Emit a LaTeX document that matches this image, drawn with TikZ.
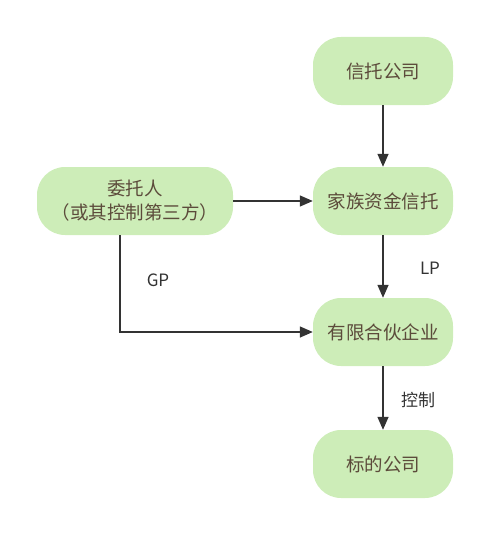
\documentclass[tikz,border=0pt]{standalone}
\usepackage{fontspec}
\setmainfont{Noto Sans CJK SC}
\usetikzlibrary{arrows.meta}
\definecolor{boxgreen}{HTML}{CDEDB8}
\definecolor{boxtext}{HTML}{5C4B3B}
\definecolor{linegray}{HTML}{333333}
\tikzset{
	box/.style={fill=boxgreen, rounded corners=28pt, minimum width=140pt, minimum height=68pt,
		text=boxtext, font=\fontsize{18.5}{24}\selectfont, align=center, inner sep=0pt},
	link/.style={draw=linegray, line width=1.4pt, -{Triangle[length=13pt,width=11pt]}},
	lbl/.style={text=linegray, font=\fontsize{17}{20}\selectfont}
}
\begin{document}
\begin{tikzpicture}[x=1pt, y=-1pt]
		\useasboundingbox (0,0) rectangle (500,535);
		\node[box] (trust) at (383,71) {信托公司};
		\node[box] (fund) at (383,201) {家族资金信托};
		\node[box, minimum width=196pt] (settlor) at (135,201) {委托人\\（或其控制第三方）};
		\node[box] (lp) at (383,332) {有限合伙企业};
		\node[box] (target) at (383,464) {标的公司};
		\coordinate (bend) at (120,332);
		\draw[link] (trust) -> (fund);
		\draw[link] (settlor) -> (fund);
		\draw[link] (fund) -> (lp);
		\draw[link] (settlor.south -| bend) -- (bend) -- (lp);
		\draw[link] (lp) -> (target);
		% edge labels
		\node[lbl] (gp) at (158,280) {GP};
		\node[lbl] (lpl) at (430,268) {LP};
		\node[lbl] (ctrl) at (418,400) {控制};
	\end{tikzpicture}
\end{document}
